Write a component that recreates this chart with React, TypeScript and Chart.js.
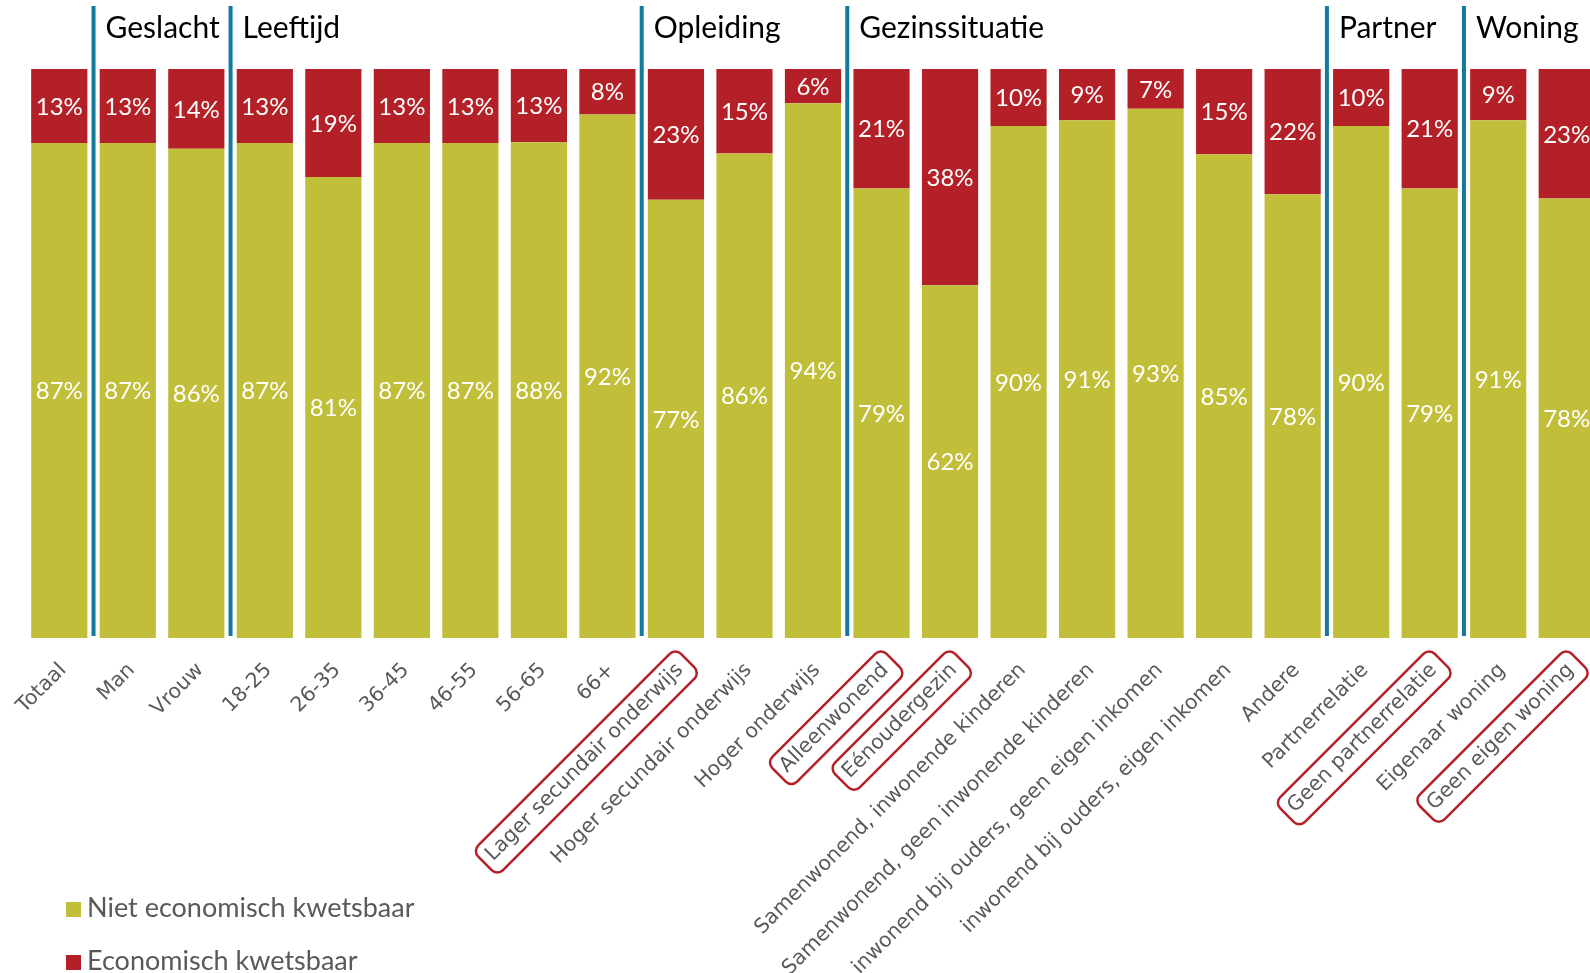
import React, { useEffect, useRef } from "react";
import { Chart, registerables } from "chart.js";

Chart.register(...registerables);

const categories = [
  "Totaal",
  "Man",
  "Vrouw",
  "18-25",
  "26-35",
  "36-45",
  "46-55",
  "56-65",
  "66+",
  "Lager secundair onderwijs",
  "Hoger secundair onderwijs",
  "Hoger onderwijs",
  "Alleenwonend",
  "Eénoudergezin",
  "Samenwonend, inwonende kinderen",
  "Samenwonend, geen inwonende kinderen",
  "inwonend bij ouders, geen eigen inkomen",
  "inwonend bij ouders, eigen inkomen",
  "Andere",
  "Partnerrelatie",
  "Geen partnerrelatie",
  "Eigenaar woning",
  "Geen eigen woning",
];

const nietKwetsbaar = [87, 87, 86, 87, 81, 87, 87, 88, 92, 77, 86, 94, 79, 62, 90, 91, 93, 85, 78, 90, 79, 91, 78];
const kwetsbaar = [13, 13, 14, 13, 19, 13, 13, 13, 8, 23, 15, 6, 21, 38, 10, 9, 7, 15, 22, 10, 21, 9, 23];

const highlighted = [
  "Lager secundair onderwijs",
  "Alleenwonend",
  "Eénoudergezin",
  "Geen partnerrelatie",
  "Geen eigen woning",
];

const groupLabels = ["Geslacht", "Leeftijd", "Opleiding", "Gezinssituatie", "Partner", "Woning"];
const groupStarts = [1, 3, 9, 12, 19, 21];

const seriesNames = ["Niet economisch kwetsbaar", "Economisch kwetsbaar"];

const GREEN = "#C1BE3A";
const RED = "#B42027";
const BLUE = "#14799B";
const GREY = "#595959";

const overlayPlugin = {
  id: "overlay",
  afterDatasetsDraw(chart: any) {
    const ctx = chart.ctx;
    ctx.save();
    ctx.fillStyle = "#FFFFFF";
    ctx.font = "24px Lato";
    ctx.textAlign = "center";
    ctx.textBaseline = "middle";
    chart.data.datasets.forEach((ds: any, di: number) => {
      const meta = chart.getDatasetMeta(di);
      meta.data.forEach((bar: any, i: number) => {
        const raw = ds.rawValues[i];
        const cy = (bar.y + bar.base) / 2;
        ctx.fillText(raw + "%", bar.x, cy + 1);
      });
    });
    ctx.restore();
  },
  afterDraw(chart: any) {
    const ctx = chart.ctx;
    const xs = chart.scales.x;
    ctx.save();
    groupStarts.forEach((s, gi) => {
      const x = (xs.getPixelForValue(s - 1) + xs.getPixelForValue(s)) / 2;
      ctx.strokeStyle = BLUE;
      ctx.lineWidth = 4;
      ctx.beginPath();
      ctx.moveTo(x, 6);
      ctx.lineTo(x, 636);
      ctx.stroke();
      ctx.fillStyle = "#000000";
      ctx.font = "30px Lato";
      ctx.textAlign = "left";
      ctx.textBaseline = "alphabetic";
      ctx.fillText(groupLabels[gi], x + 12, 38);
    });
    ctx.restore();

    categories.forEach((cat, i) => {
      const x = xs.getPixelForValue(i);
      ctx.save();
      ctx.translate(x + 4, 667);
      ctx.rotate(-Math.PI / 4);
      ctx.font = "20.5px 'DejaVu Sans'";
      ctx.fillStyle = GREY;
      ctx.textAlign = "right";
      ctx.textBaseline = "middle";
      ctx.fillText(cat, 0, 0);
      if (highlighted.includes(cat)) {
        const w = ctx.measureText(cat).width;
        const padL = 7;
        const padR = 10;
        const h = 35;
        ctx.strokeStyle = RED;
        ctx.lineWidth = 2.5;
        ctx.beginPath();
        (ctx as any).roundRect(-w - padL, -h / 2 + 1, w + padL + padR, h, 8);
        ctx.stroke();
      }
      ctx.restore();
    });

    ctx.save();
    const colors = [GREEN, RED];
    const ys = [917, 970];
    seriesNames.forEach((name, i) => {
      ctx.fillStyle = colors[i];
      ctx.fillRect(66, ys[i] - 15, 15, 15);
      ctx.fillStyle = GREY;
      ctx.font = "27px Lato";
      ctx.textAlign = "left";
      ctx.textBaseline = "alphabetic";
      ctx.fillText(name, 87, ys[i]);
    });
    ctx.restore();
  },
};

export default function App() {
  const canvasRef = useRef<HTMLCanvasElement | null>(null);

  useEffect(() => {
    if (!canvasRef.current) return;
    const totals = nietKwetsbaar.map((v, i) => v + kwetsbaar[i]);
    const chart = new Chart(canvasRef.current, {
      type: "bar",
      data: {
        labels: categories,
        datasets: [
          {
            label: seriesNames[0],
            data: nietKwetsbaar.map((v, i) => (v / totals[i]) * 100),
            rawValues: nietKwetsbaar,
            backgroundColor: GREEN,
            borderWidth: 0,
            categoryPercentage: 1,
            barPercentage: 0.82,
          } as any,
          {
            label: seriesNames[1],
            data: kwetsbaar.map((v, i) => (v / totals[i]) * 100),
            rawValues: kwetsbaar,
            backgroundColor: RED,
            borderWidth: 0,
            categoryPercentage: 1,
            barPercentage: 0.82,
          } as any,
        ],
      },
      options: {
        responsive: false,
        devicePixelRatio: 1,
        animation: false,
        layout: { padding: { left: 25, right: 9, top: 69, bottom: 335 } },
        plugins: {
          legend: { display: false },
          tooltip: { enabled: false },
        },
        scales: {
          x: { stacked: true, display: false },
          y: { stacked: true, display: false, min: 0, max: 100 },
        },
      },
      plugins: [overlayPlugin],
    });
    return () => chart.destroy();
  }, []);

  return (
    <div
      style={{
        position: "fixed",
        left: 0,
        top: 0,
        width: 1590,
        height: 973,
        overflow: "hidden",
        background: "#FFFFFF",
      }}
    >
      <canvas ref={canvasRef} width={1610} height={973} style={{ display: "block" }} />
    </div>
  );
}
